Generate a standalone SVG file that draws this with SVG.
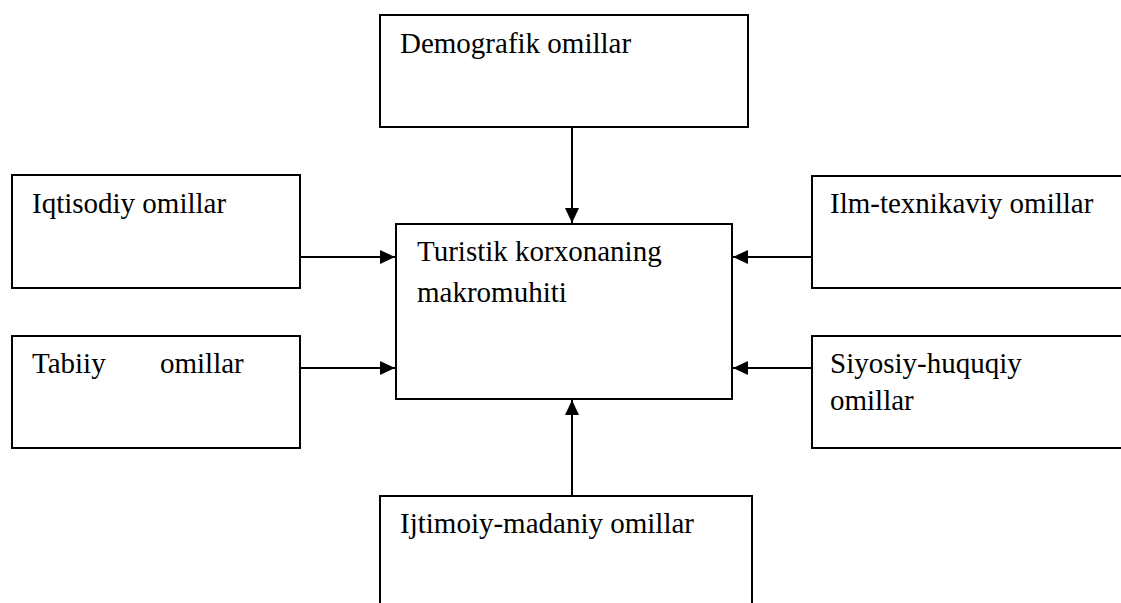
<svg xmlns="http://www.w3.org/2000/svg" width="1121" height="603" viewBox="0 0 1121 603">
  <style>
    .box { fill: #ffffff; stroke: #000000; stroke-width: 2; }
    .edge { fill: none; stroke: #000000; stroke-width: 2; }
    .lbl { font-family: 'Liberation Serif', 'Times New Roman', Times, serif; font-size: 29px; fill: #000000; }
  </style>
  <defs>
    <marker id="arrow" viewBox="0 0 15 14" refX="15" refY="7" markerWidth="15" markerHeight="14" markerUnits="userSpaceOnUse" orient="auto">
      <path d="M0,0 L15,7 L0,14 Z" fill="#000000"/>
    </marker>
  </defs>
  <rect width="1121" height="603" fill="#ffffff"/>

  <g id="demografik">
    <rect class="box" x="380" y="15" width="368" height="112"/>
    <text class="lbl" x="400" y="53">Demografik omillar</text>
  </g>

  <g id="iqtisodiy">
    <rect class="box" x="12" y="175" width="288" height="113"/>
    <text class="lbl" x="32" y="213">Iqtisodiy omillar</text>
  </g>

  <g id="tabiiy">
    <rect class="box" x="12" y="336" width="288" height="112"/>
    <text class="lbl" x="32" y="373">Tabiiy</text>
    <text class="lbl" x="160" y="373">omillar</text>
  </g>

  <g id="makromuhit">
    <rect class="box" x="396" y="224" width="336" height="175"/>
    <text class="lbl" x="417" y="261">Turistik korxonaning</text>
    <text class="lbl" x="417" y="302">makromuhiti</text>
  </g>

  <g id="ilm-texnikaviy">
    <path class="box" d="M1122,176 H812 V288 H1122"/>
    <text class="lbl" x="830" y="213">Ilm-texnikaviy omillar</text>
  </g>

  <g id="siyosiy-huquqiy">
    <path class="box" d="M1122,336 H812 V448 H1122"/>
    <text class="lbl" x="830" y="373">Siyosiy-huquqiy</text>
    <text class="lbl" x="830" y="410">omillar</text>
  </g>

  <g id="ijtimoiy-madaniy">
    <path class="box" d="M380,604 V496 H752 V604"/>
    <text class="lbl" x="400" y="533">Ijtimoiy-madaniy omillar</text>
  </g>

  <g id="connectors">
    <line class="edge" x1="572" y1="127" x2="572" y2="223" marker-end="url(#arrow)"/>
    <line class="edge" x1="300" y1="257" x2="395" y2="257" marker-end="url(#arrow)"/>
    <line class="edge" x1="300" y1="368" x2="395" y2="368" marker-end="url(#arrow)"/>
    <line class="edge" x1="812" y1="257" x2="733" y2="257" marker-end="url(#arrow)"/>
    <line class="edge" x1="812" y1="368" x2="733" y2="368" marker-end="url(#arrow)"/>
    <line class="edge" x1="572" y1="496" x2="572" y2="400" marker-end="url(#arrow)"/>
  </g>
</svg>
